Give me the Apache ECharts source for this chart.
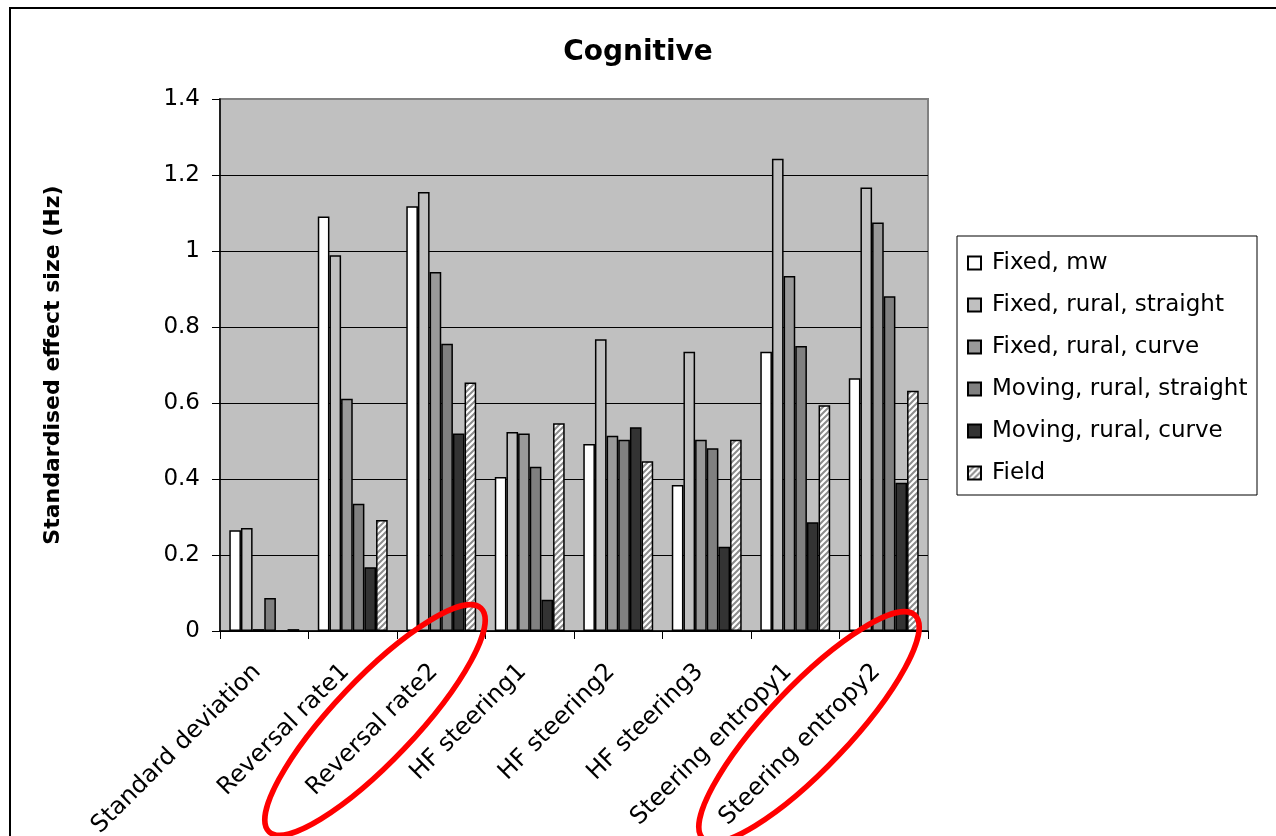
<!DOCTYPE html>
<html>
<head>
<meta charset="utf-8">
<title>Cognitive</title>
<script src="https://cdn.jsdelivr.net/npm/echarts@6/dist/echarts.min.js"></script>
<style>
html, body { margin: 0; padding: 0; background: #ffffff; }
#chart { width: 1276px; height: 836px; }
</style>
</head>
<body>
<div id="chart"></div>
<script>
var categories = ['Standard deviation', 'Reversal rate1', 'Reversal rate2', 'HF steering1', 'HF steering2', 'HF steering3', 'Steering entropy1', 'Steering entropy2'];
var seriesNames = ['Fixed, mw', 'Fixed, rural, straight', 'Fixed, rural, curve', 'Moving, rural, straight', 'Moving, rural, curve', 'Field'];

var fixedMw = [0.265, 1.091, 1.118, 0.405, 0.492, 0.384, 0.735, 0.665];
var fixedRuralStraight = [0.271, 0.989, 1.155, 0.524, 0.768, 0.735, 1.243, 1.167];
var fixedRuralCurve = [0.005, 0.611, 0.945, 0.520, 0.514, 0.503, 0.934, 1.075];
var movingRuralStraight = [0.087, 0.335, 0.756, 0.432, 0.503, 0.481, 0.750, 0.881];
var movingRuralCurve = [0, 0.168, 0.520, 0.082, 0.536, 0.222, 0.286, 0.390];
var field = [0.005, 0.292, 0.654, 0.547, 0.447, 0.503, 0.594, 0.632];

var yMin = 0;
var yMax = 1.4;
var yStep = 0.2;

var FONT = 'DejaVu Sans';

//斜线填充
function makeHatch() {
	var c = document.createElement('canvas');
	c.width = 6;
	c.height = 6;
	var ctx = c.getContext('2d');
	ctx.fillStyle = '#ffffff';
	ctx.fillRect(0, 0, 6, 6);
	ctx.strokeStyle = '#8c8c8c';
	ctx.lineWidth = 2;
	ctx.beginPath();
	ctx.moveTo(-1, 7); ctx.lineTo(7, -1);
	ctx.moveTo(-1, 1); ctx.lineTo(1, -1);
	ctx.moveTo(5, 7); ctx.lineTo(7, 5);
	ctx.stroke();
	return c;
}

//红色圈注
function ring(cx, cy) {
	return {
		type: 'ellipse',
		z: 100,
		x: cx,
		y: cy,
		rotation: Math.PI * 46.5 / 180,
		shape: { cx: 0, cy: 0, rx: 154, ry: 41 },
		style: { fill: 'none', stroke: '#ff0000', lineWidth: 5.5 }
	};
}

var fills = ['#ffffff', '#c0c0c0', '#999999', '#808080', '#333333', { image: makeHatch(), repeat: 'repeat' }];
var values = [fixedMw, fixedRuralStraight, fixedRuralCurve, movingRuralStraight, movingRuralCurve, field];

var series = values.map(function(data, i) {
	return {
		name: seriesNames[i],
		type: 'bar',
		data: data,
		barGap: '0%',
		barCategoryGap: '21%',
		itemStyle: { color: fills[i], borderColor: '#000000', borderWidth: 1.5 },
		emphasis: { disabled: true }
	};
});

var chart = echarts.init(document.getElementById('chart'));
chart.setOption({
	animation: false,
	textStyle: { fontFamily: FONT },
	title: {
		text: 'Cognitive',
		left: 'center',
		top: 34,
		textStyle: { fontFamily: FONT, fontSize: 28, fontWeight: 'bold', color: '#000000' }
	},
	legend: {
		orient: 'vertical',
		left: 962,
		top: 245,
		itemWidth: 13,
		itemHeight: 13,
		itemGap: 16,
		icon: 'rect',
		data: seriesNames,
		textStyle: { fontFamily: FONT, fontSize: 23, color: '#000000', lineHeight: 26, padding: [0, 0, 0, 6] }
	},
	grid: {
		left: 220,
		right: 348,
		top: 99,
		bottom: 205,
		containLabel: false,
		outerBoundsMode: 'none',
		show: true,
		backgroundColor: '#c0c0c0',
		borderColor: '#808080',
		borderWidth: 2
	},
	xAxis: {
		type: 'category',
		data: categories,
		axisLine: { lineStyle: { color: '#000000', width: 1.5 } },
		axisTick: { show: true, length: 8, lineStyle: { color: '#000000' } },
		axisLabel: { rotate: 45, margin: 30, padding: [0, 10, 0, 0], fontFamily: FONT, fontSize: 24, color: '#000000', interval: 0 }
	},
	yAxis: {
		type: 'value',
		min: yMin,
		max: yMax,
		interval: yStep,
		name: 'Standardised effect size (Hz)',
		nameLocation: 'middle',
		nameGap: 156,
		nameTextStyle: { fontFamily: FONT, fontSize: 22, fontWeight: 'bold', color: '#000000' },
		axisLine: { show: true, lineStyle: { color: '#000000', width: 1.5 } },
		axisTick: { show: true, length: 8, lineStyle: { color: '#000000' } },
		axisLabel: { margin: 20, fontFamily: FONT, fontSize: 23, color: '#000000' },
		splitLine: { show: true, showMaxLine: false, lineStyle: { color: '#000000', width: 1 } }
	},
	series: series,
	graphic: [
		{
			type: 'rect',
			z: -10,
			shape: { x: 10, y: 8, width: 1300, height: 900 },
			style: { fill: 'none', stroke: '#000000', lineWidth: 2 }
		},
		{
			type: 'rect',
			z: 1,
			shape: { x: 957, y: 236, width: 300, height: 259 },
			style: { fill: '#ffffff', stroke: '#000000', lineWidth: 1 }
		},
		ring(375, 720),
		ring(809, 727)
	]
});
</script>
</body>
</html>
